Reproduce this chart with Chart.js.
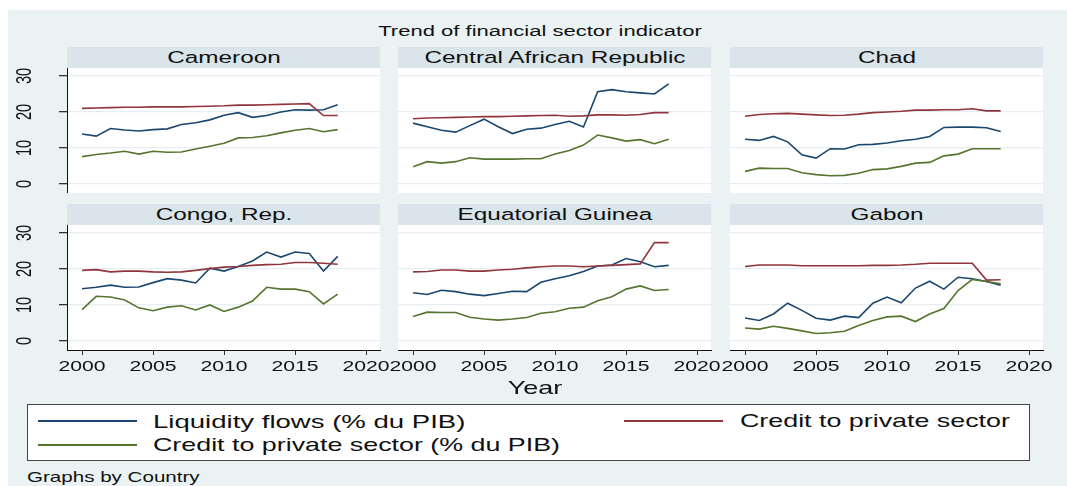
<!DOCTYPE html>
<html>
<head>
<meta charset="utf-8">
<script src="https://cdn.jsdelivr.net/npm/chart.js@4.4.0/dist/chart.umd.min.js"></script>
<style>
  body { margin: 0; width: 1067px; height: 486px; background: #fff; position: relative; overflow: hidden;
         font-family: "Liberation Sans", Arial, sans-serif; color: #111; }
  #bg { position: absolute; left: 8px; top: 10px; width: 1059px; height: 476px; background: #eaf2f3; }
  .strip { position: absolute; height: 21px; background: #d9e5ea; }
  .c { position: absolute; white-space: nowrap; transform: translate(-50%, -50%) scaleX(1.45); line-height: 1; }
  .l { position: absolute; white-space: nowrap; transform-origin: left center; transform: translateY(-50%) scaleX(1.45); line-height: 1; }
  canvas { position: absolute; }
  #legend { position: absolute; left: 27px; top: 404px; width: 1001px; height: 55px; background: #fff; border: 1px solid #444; }
  .key { position: absolute; height: 2px; width: 99px; }
</style>
</head>
<body>
<div id="bg"></div>
<div class="c" style="left:540px;top:31px;font-size:15.2px">Trend of financial sector indicator</div>
<div id="panels"></div>
<div class="c" style="left:535px;top:388px;font-size:18.6px">Year</div>
<div id="legend"></div>
<div class="key" style="left:38px;top:420px;background:#1a476f"></div>
<div class="l" style="left:153px;top:421px;font-size:19px">Liquidity flows (% du PIB)</div>
<div class="key" style="left:624px;top:420px;background:#90353b"></div>
<div class="l" style="left:740px;top:421px;font-size:18.5px">Credit to private sector</div>
<div class="key" style="left:38px;top:444px;background:#55752f"></div>
<div class="l" style="left:153px;top:445px;font-size:18.5px">Credit to private sector (% du PIB)</div>
<div class="l" style="left:27px;top:477px;font-size:14.2px">Graphs by Country</div>

<script>
// years and axis ticks
const years = [2000, 2001, 2002, 2003, 2004, 2005, 2006, 2007, 2008, 2009,
               2010, 2011, 2012, 2013, 2014, 2015, 2016, 2017, 2018];
const xTicks = [2000, 2005, 2010, 2015, 2020];
const yTicks = [0, 10, 20, 30];
const countries = ['Cameroon', 'Central African Republic', 'Chad', 'Congo, Rep.', 'Equatorial Guinea', 'Gabon'];
const seriesNames = ['Liquidity flows (% du PIB)', 'Credit to private sector', 'Credit to private sector (% du PIB)'];

// Liquidity flows (% du PIB)
const cameroonLiq = [13.9, 13.3, 15.4, 15.0, 14.7, 15.1, 15.3, 16.5, 17.0, 17.8, 19.1, 19.8, 18.5, 19.0, 20.0, 20.6, 20.5, 20.6, 22.0];
const carLiq      = [16.9, 15.9, 14.9, 14.4, 16.2, 18.0, 15.9, 14.0, 15.2, 15.5, 16.5, 17.4, 15.8, 25.6, 26.2, 25.6, 25.3, 25.0, 27.8];
const chadLiq     = [12.4, 12.1, 13.2, 11.7, 8.1, 7.2, 9.8, 9.7, 10.9, 11.0, 11.4, 12.0, 12.4, 13.2, 15.7, 15.8, 15.8, 15.6, 14.6];
const congoLiq    = [14.5, 14.9, 15.5, 14.9, 15.0, 16.2, 17.3, 16.9, 16.1, 20.2, 19.4, 20.7, 22.2, 24.7, 23.3, 24.7, 24.3, 19.4, 23.5];
const eqGuineaLiq = [13.4, 12.9, 14.1, 13.7, 13.0, 12.6, 13.2, 13.8, 13.7, 16.3, 17.3, 18.1, 19.3, 20.8, 21.1, 22.9, 22.0, 20.6, 21.0];
const gabonLiq    = [6.4, 5.7, 7.5, 10.5, 8.5, 6.3, 5.8, 6.9, 6.5, 10.5, 12.2, 10.6, 14.7, 16.6, 14.4, 17.7, 17.3, 16.5, 15.5];

// Credit to private sector
const cameroonCred = [21.0, 21.1, 21.2, 21.3, 21.3, 21.4, 21.4, 21.4, 21.5, 21.6, 21.7, 21.9, 21.9, 22.0, 22.1, 22.2, 22.3, 19.0, 19.0];
const carCred      = [18.1, 18.3, 18.4, 18.5, 18.6, 18.7, 18.7, 18.8, 18.9, 19.0, 19.1, 18.8, 18.9, 19.2, 19.2, 19.1, 19.3, 19.8, 19.8];
const chadCred     = [18.8, 19.3, 19.5, 19.6, 19.4, 19.2, 19.0, 19.1, 19.4, 19.8, 20.0, 20.2, 20.5, 20.5, 20.6, 20.6, 20.9, 20.3, 20.3];
const congoCred    = [19.6, 19.8, 19.2, 19.4, 19.4, 19.2, 19.1, 19.2, 19.6, 20.1, 20.5, 20.7, 21.0, 21.2, 21.3, 21.8, 21.8, 21.6, 21.3];
const eqGuineaCred = [19.2, 19.3, 19.7, 19.7, 19.4, 19.4, 19.7, 19.9, 20.3, 20.6, 20.8, 20.8, 20.6, 20.8, 21.0, 21.2, 21.4, 27.3, 27.3];
const gabonCred    = [20.7, 21.1, 21.1, 21.1, 20.9, 20.9, 20.9, 20.9, 20.9, 21.0, 21.0, 21.1, 21.3, 21.6, 21.6, 21.6, 21.6, 16.9, 17.0];

// Credit to private sector (% du PIB)
const cameroonCredPib = [7.6, 8.2, 8.6, 9.1, 8.3, 9.1, 8.8, 8.9, 9.7, 10.5, 11.3, 12.8, 12.9, 13.4, 14.2, 14.9, 15.4, 14.5, 15.1];
const carCredPib      = [4.8, 6.2, 5.8, 6.2, 7.3, 6.9, 6.9, 6.9, 7.0, 7.0, 8.3, 9.3, 10.8, 13.6, 12.8, 11.9, 12.3, 11.2, 12.4];
const chadCredPib     = [3.5, 4.4, 4.3, 4.3, 3.1, 2.6, 2.3, 2.4, 3.0, 4.0, 4.2, 4.9, 5.8, 6.0, 7.8, 8.3, 9.8, 9.8, 9.8];
const congoCredPib    = [8.7, 12.4, 12.2, 11.4, 9.2, 8.4, 9.4, 9.8, 8.6, 10.0, 8.2, 9.4, 11.1, 14.9, 14.4, 14.4, 13.7, 10.3, 13.0];
const eqGuineaCredPib = [6.8, 8.0, 7.9, 7.9, 6.6, 6.1, 5.8, 6.1, 6.5, 7.7, 8.1, 9.1, 9.4, 11.2, 12.3, 14.4, 15.3, 14.0, 14.3];
const gabonCredPib    = [3.6, 3.3, 4.1, 3.5, 2.8, 2.1, 2.3, 2.7, 4.3, 5.7, 6.7, 6.9, 5.4, 7.5, 9.0, 14.0, 17.1, 16.5, 15.9];

const liqSeries = [cameroonLiq, carLiq, chadLiq, congoLiq, eqGuineaLiq, gabonLiq];
const credSeries = [cameroonCred, carCred, chadCred, congoCred, eqGuineaCred, gabonCred];
const credPibSeries = [cameroonCredPib, carCredPib, chadCredPib, congoCredPib, eqGuineaCredPib, gabonCredPib];

const colors = { liq: '#1a476f', cred: '#90353b', credPib: '#55752f' };

// panel geometry (plot areas)
const colLeft = [67, 398, 730];
const rowTop = [68, 225];
const plotW = 313, plotH = 125;
const yAxisW = 59, padSide = 34, padTop = 10, xAxisH = 30;
const FONT = '"Liberation Sans", Arial, sans-serif';
const SX = 1.45;

function stretchedText(ctx, txt, x, y, size, rotate) {
    ctx.save();
    ctx.translate(x, y);
    ctx.scale(SX, 1);
    if (rotate) ctx.rotate(-Math.PI / 2);
    ctx.font = size + 'px ' + FONT;
    ctx.fillStyle = '#111';
    ctx.textAlign = 'center';
    ctx.textBaseline = 'middle';
    ctx.fillText(txt, 0, 0);
    ctx.restore();
}

function zeroPad(s) {
    s.paddingTop = 0; s.paddingBottom = 0; s.paddingLeft = 0; s.paddingRight = 0;
}

const plotBg = {
    id: 'plotBg',
    beforeDraw(chart) {
        const a = chart.chartArea, ctx = chart.ctx;
        ctx.save();
        ctx.fillStyle = '#fff';
        ctx.fillRect(a.left, a.top, a.right - a.left, a.bottom - a.top);
        ctx.restore();
    }
};

const tickText = {
    id: 'tickText',
    afterDraw(chart, args, opts) {
        const ctx = chart.ctx;
        if (opts.yLabels) {
            const ys = chart.scales.y;
            yTicks.forEach(v => stretchedText(ctx, String(v), 17, ys.getPixelForValue(v), 14.6, true));
        }
        if (opts.xLabels) {
            const xs = chart.scales.x;
            const y = xs.top + 17;
            xTicks.forEach(v => stretchedText(ctx, String(v), xs.getPixelForValue(v), y, 14.6, false));
        }
    }
};

const panelsDiv = document.getElementById('panels');

countries.forEach((name, i) => {
    const col = i % 3, row = Math.floor(i / 3);
    const left = colLeft[col], top = rowTop[row];
    const hasY = col === 0, hasX = row === 1;
    const padLeft = hasY ? 0 : padSide;

    const strip = document.createElement('div');
    strip.className = 'strip';
    strip.style.left = left + 'px';
    strip.style.top = (top - 21) + 'px';
    strip.style.width = plotW + 'px';
    panelsDiv.appendChild(strip);
    const title = document.createElement('div');
    title.className = 'c';
    title.style.left = (left + plotW / 2) + 'px';
    title.style.top = (top - 10.5) + 'px';
    title.style.fontSize = '16.8px';
    title.textContent = name;
    panelsDiv.appendChild(title);

    const canvas = document.createElement('canvas');
    const offL = hasY ? yAxisW : padLeft;
    const cw = offL + plotW + padSide;
    const ch = padTop + plotH + (hasX ? xAxisH : 0);
    canvas.width = cw; canvas.height = ch;
    canvas.style.left = (left - offL) + 'px';
    canvas.style.top = (top - padTop) + 'px';
    canvas.style.width = cw + 'px'; canvas.style.height = ch + 'px';
    panelsDiv.appendChild(canvas);

    const pts = arr => years.map((yr, k) => ({ x: yr, y: arr[k] }));

    new Chart(canvas.getContext('2d'), {
        type: 'line',
        data: {
            datasets: [
                { label: seriesNames[2], data: pts(credPibSeries[i]), borderColor: colors.credPib },
                { label: seriesNames[1], data: pts(credSeries[i]), borderColor: colors.cred },
                { label: seriesNames[0], data: pts(liqSeries[i]), borderColor: colors.liq }
            ]
        },
        options: {
            responsive: false,
            animation: false,
            devicePixelRatio: 1,
            layout: { padding: { top: padTop, right: padSide, left: padLeft, bottom: 0 } },
            elements: {
                line: { borderWidth: 1.6, tension: 0, fill: false },
                point: { radius: 0, hoverRadius: 0 }
            },
            scales: {
                x: {
                    type: 'linear',
                    min: 1998.94, max: 2020.98,
                    display: hasX,
                    afterBuildTicks: s => { s.ticks = xTicks.map(v => ({ value: v })); },
                    afterFit: s => { s.height = hasX ? xAxisH : 0; zeroPad(s); },
                    grid: { drawOnChartArea: false, drawTicks: true, tickLength: 5, tickColor: '#333' },
                    border: { display: true, color: '#111', width: 1 },
                    ticks: { color: 'rgba(0,0,0,0)', maxRotation: 0, autoSkip: false }
                },
                y: {
                    type: 'linear',
                    min: -2.5, max: 32.2,
                    afterBuildTicks: s => { s.ticks = yTicks.map(v => ({ value: v })); },
                    afterFit: s => { s.width = hasY ? yAxisW : 0; zeroPad(s); },
                    grid: { color: '#e6eef1', lineWidth: 1.3, drawTicks: hasY, tickLength: 8, tickColor: '#333' },
                    border: { display: hasY, color: '#111', width: 1 },
                    ticks: { display: hasY, color: 'rgba(0,0,0,0)' }
                }
            },
            plugins: {
                legend: { display: false },
                tooltip: { enabled: false },
                tickText: { yLabels: hasY, xLabels: hasX }
            }
        },
        plugins: [plotBg, tickText]
    });
});
</script>
</body>
</html>
